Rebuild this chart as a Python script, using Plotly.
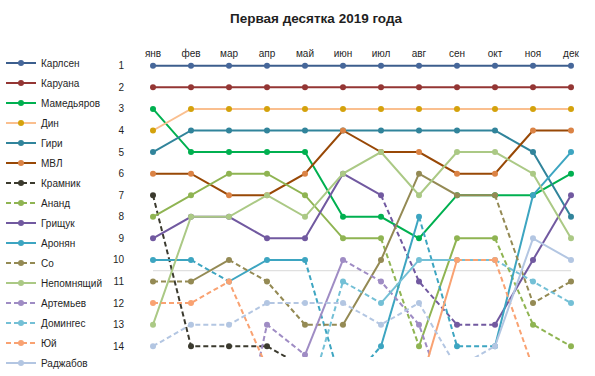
import plotly.graph_objects as go

# ---------------- data ----------------
months = ['янв', 'фев', 'мар', 'апр', 'май', 'июн', 'июл', 'авг', 'сен', 'окт', 'ноя', 'дек']
rank_ticks = [1, 2, 3, 4, 5, 6, 7, 8, 9, 10, 11, 12, 13, 14]
top_n = 10

carlsen     = [1, 1, 1, 1, 1, 1, 1, 1, 1, 1, 1, 1]
caruana     = [2, 2, 2, 2, 2, 2, 2, 2, 2, 2, 2, 2]
mamedyarov  = [3, 5, 5, 5, 5, 8, 8, 9, 7, 7, 7, 6]
ding        = [4, 3, 3, 3, 3, 3, 3, 3, 3, 3, 3, 3]
giri        = [5, 4, 4, 4, 4, 4, 4, 4, 4, 4, 5, 8]
mvl         = [6, 6, 7, 7, 6, 4, 5, 5, 6, 6, 4, 4]
kramnik     = [7, 14, 14, 14, 15, None, None, None, None, None, None, None]
anand       = [8, 7, 6, 6, 7, 9, 9, 14, 9, 9, 13, 14]
grischuk    = [9, 8, 8, 9, 9, 6, 7, 11, 13, 13, 10, 7]
aronian     = [10, 10, 11, 10, 10, 16, 14, 8, 14, 14, 7, 5]
so          = [11, 11, 10, 11, 13, 13, 10, 6, 7, 7, 12, 11]
nepo        = [13, 8, 8, 7, 8, 6, 5, 7, 5, 5, 6, 9]
artemiev    = [None, None, 21, 13, 14.4, 10, 11, 13, 18, None, None, None]
dominguez   = [None, None, None, None, 17, 11, 12, 10, 10, 10, 11, 12]
yu          = [12, 12, 11, 15, None, None, None, 16, 10, 10, 15, None]
radjabov    = [14, 13, 13, 12, 12, 12, 13, 12, 15, 14, 9, 10]

names = ['Карлсен', 'Каруана', 'Мамедьяров', 'Дин', 'Гири', 'МВЛ', 'Крамник', 'Ананд',
         'Грищук', 'Аронян', 'Со', 'Непомнящий', 'Артемьев', 'Домингес', 'Юй', 'Раджабов']
values = [carlsen, caruana, mamedyarov, ding, giri, mvl, kramnik, anand,
          grischuk, aronian, so, nepo, artemiev, dominguez, yu, radjabov]

# ---------------- styles ----------------
line_colors = {
    'Карлсен': '#3C5E8D', 'Каруана': '#943634', 'Мамедьяров': '#00B050', 'Дин': '#FABF8F',
    'Гири': '#31849B', 'МВЛ': '#984806', 'Крамник': '#3B3A2E', 'Ананд': '#8FB452',
    'Грищук': '#7159A0', 'Аронян': '#3DA5C1', 'Со': '#948A54', 'Непомнящий': '#ABC985',
    'Артемьев': '#9F8CC4', 'Домингес': '#74C0D6', 'Юй': '#F9A272', 'Раджабов': '#B3C6E2',
}
marker_colors = {'Дин': '#D4A20C', 'МВЛ': '#DB8345', 'Карлсен': '#46679A'}
legend_dashed = {'Крамник', 'Ананд', 'Со', 'Артемьев', 'Домингес', 'Юй'}
dash_overrides = {('Юй', 8)}
DASH = '5px,3px'
FONT = 'Liberation Sans'
TXT = '#1f1f1f'

# pixel layout
W, H = 595, 376
plot_left, plot_right = 134, 590
y_r1, y_r14 = 66, 346
ppr = (y_r14 - y_r1) / 13.0
y_top_rank, y_bot_rank = 0.5, 14.5
plot_top = y_r1 - (1 - y_top_rank) * ppr
plot_bot = y_r14 + (y_bot_rank - 14) * ppr
legend_top = 48.5
legend_step = 20
legend_split = 8

fig = go.Figure()


def seg_dashed(name, vals, j):
    if (name, j) in dash_overrides:
        return True
    return vals[j + 1] > top_n


for i, (name, vals) in enumerate(zip(names, values)):
    color = line_colors[name]
    mcolor = marker_colors.get(name, color)
    runs = []
    cur = None
    for j in range(len(vals) - 1):
        a, b = vals[j], vals[j + 1]
        if a is None or b is None:
            cur = None
            continue
        d = seg_dashed(name, vals, j)
        if cur is not None and cur['d'] == d and cur['end'] == j:
            cur['idx'].append(j + 1)
            cur['end'] = j + 1
        else:
            cur = {'d': d, 'idx': [j, j + 1], 'end': j + 1}
            runs.append(cur)
    for r in runs:
        fig.add_trace(go.Scatter(
            x=[months[k] for k in r['idx']], y=[vals[k] for k in r['idx']],
            mode='lines', line=dict(color=color, width=2, dash=DASH if r['d'] else 'solid'),
            showlegend=False, legendgroup=name, hoverinfo='skip'))
    fig.add_trace(go.Scatter(
        x=months, y=vals, mode='markers', name=name,
        marker=dict(color=mcolor, size=6),
        showlegend=False, legendgroup=name))
    fig.add_trace(go.Scatter(
        x=[None], y=[None], mode='lines+markers', name=name, legendgroup=name,
        legend='legend' if i < legend_split else 'legend2',
        line=dict(color=color, width=2, dash=DASH if name in legend_dashed else 'solid'),
        marker=dict(color=mcolor, size=6)))

fig.add_shape(type='line', xref='x', yref='y', x0=0, x1=len(months) - 1,
              y0=top_n + 0.5, y1=top_n + 0.5, line=dict(color='#D9D9D9', width=1), layer='below')

legend_common = dict(xref='container', yref='container', x=1 / W, xanchor='left',
                     yanchor='top', bgcolor='rgba(0,0,0,0)',
                     font=dict(family=FONT, size=10, color=TXT), tracegroupgap=1,
                     itemclick=False, itemdoubleclick=False)

fig.update_layout(
    width=W, height=H,
    margin=dict(l=plot_left, r=W - plot_right, t=plot_top, b=H - plot_bot, pad=0,
                autoexpand=False),
    paper_bgcolor='white', plot_bgcolor='white',
    font=dict(family=FONT, size=10, color=TXT),
    title=dict(text='<b>Первая десятка 2019 года</b>', x=316 / W, xanchor='center',
               y=1 - 18 / H, yanchor='middle', yref='container',
               font=dict(family=FONT, size=13.5, color=TXT)),
    xaxis=dict(type='category', categoryorder='array', categoryarray=months,
               range=[-0.5, len(months) - 0.5], side='top', showgrid=False,
               zeroline=False, showline=False, ticks='', tickfont=dict(size=10, color=TXT),
               ticklabelstandoff=-5, fixedrange=True, automargin=False),
    yaxis=dict(range=[y_bot_rank, y_top_rank], tickvals=rank_ticks,
               ticktext=[str(t) for t in rank_ticks], showgrid=False, zeroline=False,
               showline=False, ticks='', ticklabelstandoff=9,
               tickfont=dict(size=10, color=TXT), fixedrange=True, automargin=False),
    legend=dict(legend_common, y=1 - legend_top / H),
    legend2=dict(legend_common, y=1 - (legend_top + legend_split * legend_step) / H),
    showlegend=True,
)

fig.write_html('out.html', config={'displayModeBar': False},
               post_script="document.body.style.margin='0px';")
